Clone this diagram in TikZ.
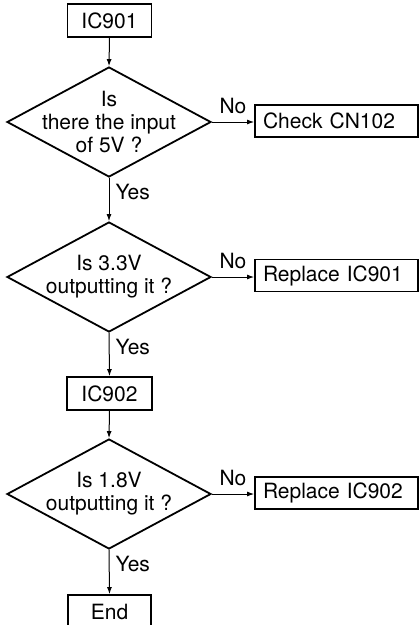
\documentclass[tikz,border=0pt]{standalone}
\usepackage{fontspec}
\setmainfont{TeX Gyre Heros}
\usetikzlibrary{shapes.geometric,arrows.meta}
\begin{document}
\begin{tikzpicture}[x=1pt,y=-1pt,
  font=\fontsize{21}{23}\selectfont,
  box/.style={draw, line width=1.8pt, minimum height=33pt, inner sep=0pt},
  rbox/.style={box, text width=147pt, align=left, inner xsep=8pt, minimum height=32pt},
  dec/.style={draw, diamond, line width=1.8pt, minimum width=204pt, minimum height=110pt, inner sep=0pt},
  arr/.style={line width=1pt, -{Latex[length=7pt,width=5pt]}},
  yes/.style={pos=0.32, anchor=west, xshift=6pt, inner sep=0pt},
  no/.style={anchor=south, inner sep=0pt, yshift=8pt}]
\clip (0,0) rectangle (420,625);
\node[box, minimum width=84pt] (ic901) at (109.5,20.5) {IC901};
\node[dec, label={[align=center]center:Is\\there the input\\of 5V ?}] (d1) at (109,122) {};
\node[rbox] (cn) at (336.5,121) {Check CN102};
\node[dec, label={[align=center]center:Is 3.3V\\outputting it ?}] (d2) at (109,277) {};
\node[rbox] (r1) at (336.5,275.5) {Replace IC901};
\node[box, minimum width=85pt] (ic902) at (109.5,393.5) {IC902};
\node[dec, label={[align=center]center:Is 1.8V\\outputting it ?}] (d3) at (109,494) {};
\node[rbox] (r2) at (336.5,493) {Replace IC902};
\node[box, minimum width=83pt] (end) at (109.5,611.5) {End};
\draw[arr] (ic901.south) -- (d1.north);
\draw[arr] (d1.east) -- node[no]{No} (d1.east -| cn.west);
\draw[arr] (d1.south) -- node[yes]{Yes} (d2.north);
\draw[arr] (d2.east) -- node[no]{No} (d2.east -| r1.west);
\draw[arr] (d2.south) -- node[yes]{Yes} (ic902.north);
\draw[arr] (ic902.south) -- (d3.north);
\draw[arr] (d3.east) -- node[no]{No} (d3.east -| r2.west);
\draw[arr] (d3.south) -- node[yes]{Yes} (end.north);
\end{tikzpicture}
\end{document}
